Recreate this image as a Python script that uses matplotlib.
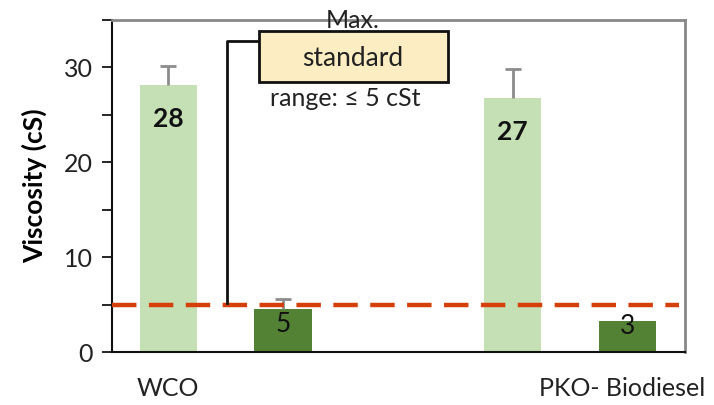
import matplotlib
matplotlib.use("Agg")
import matplotlib.pyplot as plt
from matplotlib.patches import FancyBboxPatch

plt.rcParams['font.family'] = ['Lato', 'DejaVu Sans']

# Data
categories = ["WCO", "PKO- Biodiesel"]
bar_positions = [0, 1, 3, 4]
bar_values = [28.2, 4.5, 26.8, 3.3]
bar_errors = [2.0, 1.05, 3.0, 0.0]
bar_labels = ["28", "5", "27", "3"]
bar_colors = ["#C5E0B4", "#548235", "#C5E0B4", "#548235"]
label_bold = [True, False, True, False]
label_offsets_pt = [-16, -2, -16, 5]
limit_value = 5
category_label_x = [0, 3.95]

fig = plt.figure(figsize=(7.14, 4.05), dpi=100)
ax = fig.add_axes([112/714, 1-352/405, (685-112)/714, (352-20)/405])

ax.bar(bar_positions, bar_values, width=0.5, color=bar_colors, zorder=2)
for x, v, e in zip(bar_positions, bar_values, bar_errors):
    if e > 0:
        ax.plot([x, x], [v, v + e], color='#8c8c8c', lw=2, zorder=3,
                solid_capstyle='butt')
        ax.plot([x], [v + e], marker='_', ms=12, mew=2, color='#8c8c8c', zorder=3)

for x, v, lab, b, off in zip(bar_positions, bar_values, bar_labels, label_bold, label_offsets_pt):
    ax.annotate(lab, xy=(x, v), xytext=(0, off), textcoords='offset points',
                ha='center', va='top', fontsize=19,
                fontweight='bold' if b else 'normal', color='#111111', zorder=5)

ax.axhline(limit_value, xmin=0.0, xmax=0.99, color='#D43F0A', lw=3.2,
           dashes=(5.5, 2.8), zorder=4)

ax.set_xlim(-0.49, 4.5)
ax.set_ylim(0, 35)
ax.set_yticks([0, 5, 10, 15, 20, 25, 30, 35])
ax.set_yticklabels(["0", "", "10", "", "20", "", "30", ""], fontsize=18, color='#222222')
ax.tick_params(axis='y', direction='out', length=7, width=1.2, pad=7)
ax.set_xticks([])
ax.spines['left'].set_color('#111111')
ax.spines['left'].set_linewidth(1.5)
ax.spines['bottom'].set_color('#111111')
ax.spines['bottom'].set_linewidth(1.5)
ax.spines['top'].set_color('#888888')
ax.spines['top'].set_linewidth(2)
ax.spines['right'].set_color('#888888')
ax.spines['right'].set_linewidth(2)
ax.set_ylabel("Viscosity (cS)", fontsize=19, fontweight='bold', labelpad=12)

for cx, cat in zip(category_label_x, categories):
    ax.annotate(cat, xy=(cx, 0), xycoords='data', xytext=(0, -26),
                textcoords='offset points', ha='center', va='center',
                fontsize=18, color='#222222', annotation_clip=False)

# Callout
fig.text(353/714, 1-21/405, "Max.", ha='center', va='center', fontsize=18, color='#222222')
fig.text(345/714, 1-98/405, "range: \u2264 5 cSt", ha='center', va='center', fontsize=18, color='#222222')
box = FancyBboxPatch((259/714, 1-82/405), (448-259)/714, (82-31)/405,
                     boxstyle='square,pad=0', transform=fig.transFigure,
                     facecolor='#FDEDC3', edgecolor='#111111', lw=2, zorder=6)
fig.patches.append(box)
fig.text(353/714, 1-58/405, "standard", ha='center', va='center', fontsize=19,
         color='#222222', zorder=7)
fig.lines.append(plt.Line2D([259/714, 227/714, 227/714],
                            [1-41/405, 1-41/405, 1-303/405],
                            transform=fig.transFigure, color='#111111', lw=2))

fig.savefig("out.png", dpi=100)
